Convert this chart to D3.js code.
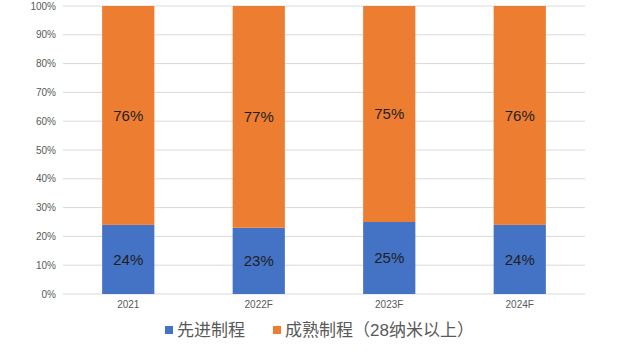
<!DOCTYPE html>
<html>
<head>
<meta charset="utf-8">
<script src="https://cdn.jsdelivr.net/npm/d3@7"></script>
<style>
  body { margin: 0; background: #fff; }
  text { font-family: "Liberation Sans", "Noto Sans CJK SC", sans-serif; }
</style>
</head>
<body>
<svg id="chart" width="640" height="357"></svg>
<script>
var years = ["2021", "2022F", "2023F", "2024F"];
var advanced = [24, 23, 25, 24];
var mature = [76, 77, 75, 76];
var seriesNames = ["先进制程", "成熟制程（28纳米以上）"];
var yTicks = [0, 10, 20, 30, 40, 50, 60, 70, 80, 90, 100];

var colors = ["#4472C4", "#ED7D31"];

var svg = d3.select("#chart");
var margin = {left: 63, right: 55, top: 6, bottom: 63};
var width = 640 - margin.left - margin.right,
  height = 357 - margin.top - margin.bottom;

var g = svg.append("g")
  .attr("transform", "translate(" + margin.left + "," + margin.top + ")");

var x = d3.scaleBand().domain(years).range([0, width]).paddingInner(0.6).paddingOuter(0.3);
var y = d3.scaleLinear().domain([0, 100]).range([height, 0]);

// grid
g.selectAll("line.grid")
  .data(yTicks)
  .enter()
  .append("line")
  .attr("x1", 0)
  .attr("x2", width)
  .attr("y1", function (d) { return y(d); })
  .attr("y2", function (d) { return y(d); })
  .attr("stroke", "#d9d9d9")
  .attr("stroke-width", 1);

g.selectAll("text.ytick")
  .data(yTicks)
  .enter()
  .append("text")
  .attr("x", -7)
  .attr("y", function (d) { return y(d); })
  .attr("dy", "0.35em")
  .attr("text-anchor", "end")
  .attr("font-size", 10)
  .attr("fill", "#595959")
  .text(function (d) { return d + "%"; });

var rows = years.map(function (yr, i) {
  return {year: yr, advanced: advanced[i], mature: mature[i]};
});
var stack = d3.stack().keys(["advanced", "mature"]);
var layers = stack(rows);

var layer = g.selectAll("g.layer")
  .data(layers)
  .enter()
  .append("g")
  .attr("fill", function (d, i) { return colors[i]; });

layer.selectAll("rect")
  .data(function (d) { return d; })
  .enter()
  .append("rect")
  .attr("x", function (d) { return x(d.data.year); })
  .attr("width", x.bandwidth())
  .attr("y", function (d) { return y(d[1]); })
  .attr("height", function (d) { return y(d[0]) - y(d[1]); });

layer.selectAll("text")
  .data(function (d) { return d; })
  .enter()
  .append("text")
  .attr("x", function (d) { return x(d.data.year) + x.bandwidth() / 2; })
  .attr("y", function (d) { return y((d[0] + d[1]) / 2); })
  .attr("dy", "0.35em")
  .attr("text-anchor", "middle")
  .attr("font-size", 15)
  .attr("fill", "#1f1f1f")
  .text(function (d) { return (d[1] - d[0]) + "%"; });

// x labels
g.selectAll("text.xlab")
  .data(years)
  .enter()
  .append("text")
  .attr("x", function (d) { return x(d) + x.bandwidth() / 2; })
  .attr("y", height + 14)
  .attr("text-anchor", "middle")
  .attr("font-size", 10)
  .attr("fill", "#595959")
  .text(function (d) { return d; });

// legend
var legendX = [165, 273];
var legend = svg.selectAll("g.legend")
  .data(seriesNames)
  .enter()
  .append("g")
  .attr("transform", function (d, i) { return "translate(" + legendX[i] + ",330)"; });

legend.append("rect")
  .attr("x", 0)
  .attr("y", -4)
  .attr("width", 8)
  .attr("height", 8)
  .attr("fill", function (d, i) { return colors[i]; });

legend.append("text")
  .attr("x", 12)
  .attr("y", 0)
  .attr("dy", "0.35em")
  .attr("font-size", 17)
  .attr("fill", "#595959")
  .text(function (d) { return d; });
</script>
</body>
</html>
